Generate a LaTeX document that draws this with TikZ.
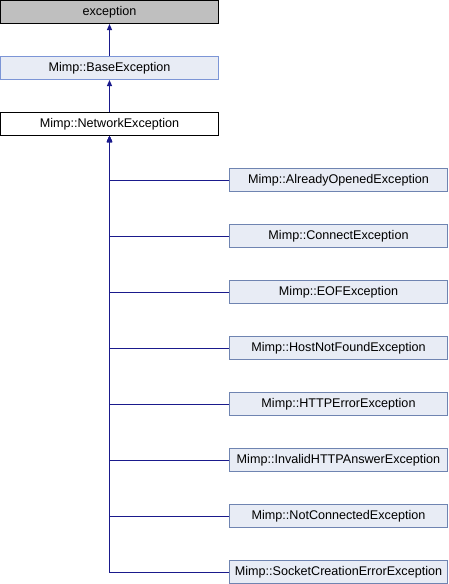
\documentclass[tikz,border=0pt]{standalone}
\usepackage{fontspec}
\setmainfont{Liberation Sans}
\usetikzlibrary{arrows.meta}
\definecolor{edgeblue}{HTML}{1A1A8C}
\definecolor{boxfill}{HTML}{E8ECF5}
\definecolor{baseborder}{HTML}{7C95D6}
\definecolor{childborder}{HTML}{6F84B1}
\definecolor{grayfill}{HTML}{BFBFBF}
\tikzset{
  cls/.style={rectangle, minimum width=218pt, minimum height=23pt, inner sep=0pt, line width=1pt, font=\fontsize{12.6}{14}\selectfont},
  gray box/.style={cls, draw=black, fill=grayfill},
  base box/.style={cls, draw=baseborder, fill=boxfill},
  main box/.style={cls, draw=black, fill=white},
  child box/.style={cls, draw=childborder, fill=boxfill},
  edge/.style={draw=edgeblue, line width=1pt, -{Triangle[length=6pt,width=5pt]}}
}
\begin{document}
\begin{tikzpicture}[x=1pt,y=-1pt]
\useasboundingbox (0,0) rectangle (448,584);
\node[gray box] (exc) at (109.5,12) {exception};
\node[base box] (base) at (109.5,68) {Mimp::BaseException};
\node[main box] (net) at (109.5,124) {Mimp::NetworkException};
\node[child box] (c1) at (338.5,180) {Mimp::AlreadyOpenedException};
\node[child box] (c2) at (338.5,236) {Mimp::ConnectException};
\node[child box] (c3) at (338.5,292) {Mimp::EOFException};
\node[child box] (c4) at (338.5,348) {Mimp::HostNotFoundException};
\node[child box] (c5) at (338.5,404) {Mimp::HTTPErrorException};
\node[child box] (c6) at (338.5,460) {Mimp::InvalidHTTPAnswerException};
\node[child box] (c7) at (338.5,516) {Mimp::NotConnectedException};
\node[child box] (c8) at (338.5,572) {Mimp::SocketCreationErrorException};
\draw[edge] (base) -- (exc);
\draw[edge] (net) -- (base);
\foreach \c in {c1,c2,c3,c4,c5,c6,c7,c8}
  \draw[edge] (\c.west) -| (net.south);
\end{tikzpicture}
\end{document}
